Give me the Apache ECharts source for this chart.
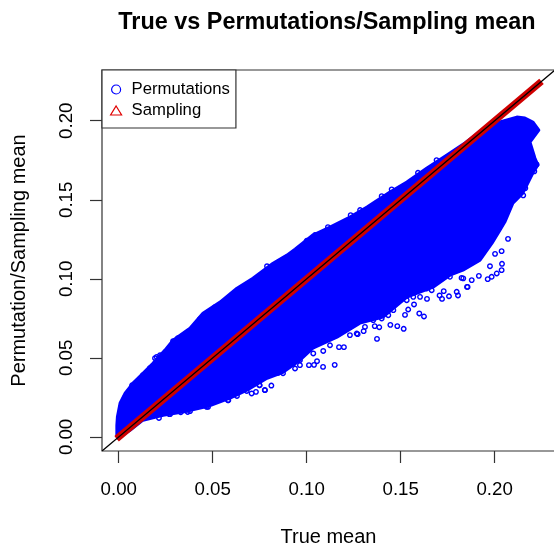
<!DOCTYPE html>
<html>
<head>
<meta charset="utf-8">
<title>True vs Permutations/Sampling mean</title>
<script src="https://cdn.jsdelivr.net/npm/echarts@6/dist/echarts.min.js"></script>
<style>
html, body { margin: 0; padding: 0; background: #fff; overflow: hidden; }
#chart { width: 554px; height: 548px; }
</style>
</head>
<body>
<div id="chart"></div>
<script>
// tick labels
var xTicks = [0, 0.05, 0.10, 0.15, 0.20];
var yTicks = [0, 0.05, 0.10, 0.15, 0.20];

// outer edge of the solid permutations cloud
var cloudX = [-0.001, -0.001, -0.0007, 0.0007, 0.0034, 0.0076, 0.0129, 0.0182, 0.0246, 0.0289, 0.0379, 0.0448, 0.0539, 0.0629, 0.0714, 0.0821, 0.0895, 0.0938, 0.1033, 0.1124, 0.1230, 0.1321, 0.1443, 0.1533, 0.1640, 0.1746, 0.1842, 0.1948, 0.2028, 0.2118, 0.2161, 0.2203, 0.2235, 0.2188, 0.2214, 0.2230, 0.2203, 0.2150, 0.2097, 0.2054, 0.2028, 0.1986, 0.1922, 0.1831, 0.1762, 0.1672, 0.1533, 0.1406, 0.1283, 0.1161, 0.1033, 0.0964, 0.0874, 0.0789, 0.0682, 0.0592, 0.0475, 0.0363, 0.0236, 0.0129, 0.0060, -0.0004];
var cloudY = [0.0004, 0.0074, 0.0127, 0.0213, 0.0277, 0.0340, 0.0403, 0.0466, 0.0549, 0.0612, 0.0688, 0.0783, 0.0853, 0.0941, 0.1004, 0.1099, 0.1150, 0.1188, 0.1277, 0.1327, 0.1391, 0.1454, 0.1549, 0.1612, 0.1701, 0.1783, 0.1859, 0.1954, 0.1992, 0.2023, 0.2017, 0.1992, 0.1941, 0.1865, 0.1764, 0.1720, 0.1669, 0.1542, 0.1479, 0.1359, 0.1308, 0.1226, 0.1118, 0.1055, 0.1023, 0.0947, 0.0884, 0.0758, 0.0720, 0.0631, 0.0561, 0.0485, 0.0409, 0.0371, 0.0296, 0.0245, 0.0194, 0.0163, 0.0137, 0.0106, 0.0042, -0.0008];

// single circles that stand clear of the cloud or bump its edge
var strayX = [0.1374, 0.1516, 0.1482, 0.1386, 0.1362, 0.1445, 0.1303, 0.1271, 0.1198, 0.1172, 0.1149, 0.1087, 0.1055, 0.1039, 0.1012, 0.1599, 0.1624, 0.1523, 0.1540, 0.1640, 0.1571, 0.1707, 0.1720, 0.1757, 0.1798, 0.1805, 0.1729, 0.1853, 0.2071, 0.2037, 0.2039, 0.2037, 0.2011, 0.1984, 0.1963, 0.1975, 0.2002, 0.1856, 0.1916, 0.1878, 0.1824, 0.2163, 0.2223, 0.2211, 0.2152, 0.2135, 0.0778, 0.0750, 0.0730, 0.0707, 0.0583, 0.0468, 0.0214, 0.0269, 0.0367, 0.0202, 0.0220, 0.0181,
    0.0315, 0.0289, 0.0193, 0.0432, 0.0512, 0.0789, 0.0166, 0.0129, 0.0071, 0.0034, 0.0812, 0.0777, 0.0748, 0.0874, 0.0847, 0.0681, 0.0629, 0.0581, 0.0475, 0.0379, 0.0330, 0.0273,
    0.1234, 0.1452, 0.1592, 0.1284, 0.1113, 0.1000, 0.1044, 0.1691, 0.1399,
    0.1230, 0.1266, 0.1310, 0.1354, 0.1399, 0.1434, 0.1461, 0.1532, 0.1603, 0.1665, 0.1638, 0.1567, 0.1762, 0.1833, 0.1124, 0.1088, 0.1035, 0.0964, 0.0929, 0.0938, 0.0964];
var strayY = [0.0620, 0.0684, 0.0701, 0.0694, 0.0701, 0.0709, 0.0669, 0.0650, 0.0568, 0.0568, 0.0456, 0.0443, 0.0479, 0.0456, 0.0454, 0.0781, 0.0762, 0.0772, 0.0806, 0.0873, 0.0838, 0.0895, 0.0873, 0.0890, 0.0918, 0.0895, 0.0922, 0.0949, 0.1253, 0.1175, 0.1095, 0.1055, 0.1034, 0.1013, 0.0998, 0.1080, 0.1158, 0.0949, 0.1019, 0.0992, 0.1006, 0.1574, 0.1724, 0.1680, 0.1528, 0.1551, 0.0296, 0.0327, 0.0285, 0.0275, 0.0232, 0.0190, 0.0120, 0.0144, 0.0158, 0.0506, 0.0517, 0.0443,
    0.0625, 0.0606, 0.0498, 0.0745, 0.0821, 0.1080, 0.0435, 0.0391, 0.0327, 0.0251, 0.0325, 0.0297, 0.0327, 0.0403, 0.0405, 0.0291, 0.0259, 0.0232, 0.0190, 0.0163, 0.0156, 0.0144,
    0.1403, 0.1566, 0.1671, 0.1435, 0.1327, 0.1241, 0.1277, 0.1751, 0.1523,
    0.0644, 0.0654, 0.0696, 0.0739, 0.0749, 0.0770, 0.0802, 0.0865, 0.0886, 0.0928, 0.0939, 0.0886, 0.1013, 0.1003, 0.0580, 0.0544, 0.0528, 0.0485, 0.0465, 0.0433, 0.0454];

// sampling means sit on the diagonal, first and last point
var samplingX = [0.0003, 0.2235];
var samplingY = [0.0003, 0.2235];

var axisMin = -0.0089;
var axisMax = 0.2321;

var BLUE = '#0000ff';
var FONT = '"Liberation Sans", Arial, sans-serif';

function zip(xs, ys) {
    return xs.map(function (x, i) { return [x, ys[i]]; });
}

var cloudPoints = zip(cloudX, cloudY);

function axisOpts(ticks) {
    return {
        type: 'value',
        min: axisMin,
        max: axisMax,
        splitLine: { show: false },
        axisLine: { show: false, onZero: false },
        axisTick: {
            show: true,
            length: 12,
            customValues: ticks,
            lineStyle: { color: '#333', width: 1.2 }
        },
        axisLabel: {
            show: true,
            customValues: ticks,
            color: '#000',
            fontFamily: FONT,
            fontSize: 18.7,
            formatter: function (v) { return v.toFixed(2); }
        },
        nameLocation: 'middle',
        nameTextStyle: { color: '#000', fontFamily: FONT, fontSize: 20 }
    };
}

var xAxis = axisOpts(xTicks);
xAxis.name = 'True mean';
xAxis.nameGap = 76;
xAxis.axisLabel.margin = 29;

var yAxis = axisOpts(yTicks);
yAxis.name = 'Permutation/Sampling mean';
yAxis.nameGap = 73;
yAxis.axisLabel.rotate = 90;
yAxis.axisLabel.margin = 26;

var chart = echarts.init(document.getElementById('chart'), null, { renderer: 'canvas' });

chart.setOption({
    animation: false,
    backgroundColor: '#fff',
    title: {
        text: 'True vs Permutations/Sampling mean',
        left: 322,
        top: 6,
        textAlign: 'center',
        textStyle: { color: '#000', fontFamily: FONT, fontSize: 23.4, fontWeight: 'bold' }
    },
    grid: {
        show: true,
        outerBoundsMode: 'none',
        left: 102,
        top: 70,
        width: 453,
        height: 381,
        borderColor: '#333',
        borderWidth: 1.2,
        backgroundColor: 'transparent'
    },
    legend: {
        left: 102,
        top: 70,
        orient: 'vertical',
        padding: [11, 6, 9, 8],
        itemWidth: 11,
        itemHeight: 9,
        itemGap: 4,
        backgroundColor: '#fff',
        borderColor: '#333',
        borderWidth: 1.2,
        textStyle: { color: '#000', fontFamily: FONT, fontSize: 16.7, padding: [0, 0, 0, 5] },
        data: [
            { name: 'Permutations', icon: 'circle', itemStyle: { color: 'transparent', borderColor: BLUE, borderWidth: 1.2 } },
            { name: 'Sampling', icon: 'triangle', itemStyle: { color: 'transparent', borderColor: '#e00000', borderWidth: 1.2 } }
        ]
    },
    xAxis: xAxis,
    yAxis: yAxis,
    series: [
        {
            name: 'cloud',
            type: 'custom',
            coordinateSystem: 'cartesian2d',
            clip: true,
            data: cloudPoints,
            z: 2,
            renderItem: function (params, api) {
                if (params.dataIndex !== 0) return;
                return {
                    type: 'polygon',
                    shape: { points: cloudPoints.map(function (p) { return api.coord(p); }) },
                    style: { fill: BLUE, stroke: BLUE, lineWidth: 3, lineJoin: 'round' }
                };
            }
        },
        {
            name: 'Permutations',
            type: 'scatter',
            data: zip(strayX, strayY),
            symbol: 'circle',
            symbolSize: 4.5,
            itemStyle: { color: 'transparent', borderColor: BLUE, borderWidth: 1.4, opacity: 1 },
            z: 3
        },
        {
            name: 'Sampling',
            type: 'line',
            data: zip(samplingX, samplingY),
            showSymbol: false,
            lineStyle: { color: '#d00000', width: 7, cap: 'square' },
            itemStyle: { color: '#e00000' },
            z: 4
        },
        {
            name: 'identity',
            type: 'line',
            data: [[axisMin, axisMin], [axisMax, axisMax]],
            showSymbol: false,
            lineStyle: { color: '#000', width: 1.2 },
            z: 5
        }
    ]
});
</script>
</body>
</html>
